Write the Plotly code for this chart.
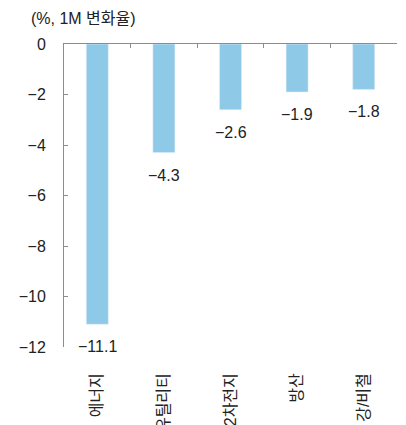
import plotly.graph_objects as go

categories = ["에너지", "유틸리티", "2차전지", "방산", "강/비철"]
values = [-11.1, -4.3, -2.6, -1.9, -1.8]
labels = ["−11.1", "−4.3", "−2.6", "−1.9", "−1.8"]
y_ticks = [0, -2, -4, -6, -8, -10, -12]

FONT = "Arial, 'Liberation Sans', 'Noto Sans CJK KR', sans-serif"
AXIS = "#8c8c8c"

fig = go.Figure()
fig.add_trace(go.Bar(
    x=categories, y=values, marker=dict(color="#8ECAE8", line=dict(width=0)),
    width=0.33, hoverinfo="skip", showlegend=False,
))
fig.add_trace(go.Bar(
    x=categories, y=values, xaxis="x2", marker=dict(color="rgba(0,0,0,0)"),
    width=0.33, hoverinfo="skip", showlegend=False,
))

for c, v, t in zip(categories, values, labels):
    fig.add_annotation(x=c, y=v, text=t, showarrow=False, yanchor="top",
                       yshift=-12, font=dict(size=16, color="#222", family=FONT))

fig.update_layout(
    width=398, height=417,
    margin=dict(l=56, r=9, t=36, b=78),
    paper_bgcolor="white", plot_bgcolor="white",
    font=dict(family=FONT, size=15, color="#222"),
    barmode="overlay",
    xaxis=dict(
        type="category", categoryarray=categories, range=[-0.5, 4.5],
        showline=False, ticks="", showgrid=False, zeroline=False,
        tickangle=-90, ticklabelstandoff=22, automargin=False,
        tickfont=dict(size=16, color="#222"),
    ),
    xaxis2=dict(
        type="category", categoryarray=categories, range=[-0.5, 4.5],
        overlaying="x", side="top", showline=True, linecolor=AXIS, linewidth=1,
        ticks="inside", ticklen=4, tickcolor=AXIS, tickson="boundaries",
        showticklabels=False, showgrid=False, zeroline=False, automargin=False,
    ),
    yaxis=dict(
        range=[-12, 0], tickvals=y_ticks, showline=True, linecolor=AXIS,
        linewidth=1, ticks="inside", ticklen=4, tickcolor=AXIS,
        showgrid=False, zeroline=False, ticklabelstandoff=14, automargin=False,
        tickfont=dict(size=16, color="#222"),
    ),
    annotations=list(fig.layout.annotations) + [dict(
        text="(%, 1M 변화율)", xref="paper", yref="paper", x=-0.105, y=1.0,
        xanchor="left", yanchor="middle", yshift=26, showarrow=False,
        font=dict(size=16, color="#222", family=FONT),
    )],
)

fig.write_html("out.html")
